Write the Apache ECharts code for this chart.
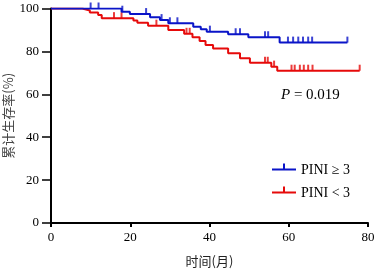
<!DOCTYPE html>
<html>
<head>
<meta charset="utf-8">
<script src="https://cdn.jsdelivr.net/npm/echarts@6/dist/echarts.min.js"></script>
<style>
  html, body { margin: 0; padding: 0; background: #fff; }
  #km { width: 378px; height: 271px; }
</style>
</head>
<body>
<div id="km"></div>
<script>
// 生存曲线数据
var xTicks = [0, 20, 40, 60, 80];
var yTicks = [0, 20, 40, 60, 80, 100];

var highTimes = [0, 17.8, 19.9, 25.0, 27.5, 29.6, 35.9, 37.8, 39.3, 44.7, 49.8, 57.7, 74.8];
var highSurv = [100, 98.5, 97.4, 95.9, 94.6, 93.1, 91.5, 90.3, 89.2, 88.0, 86.6, 84.1, 84.1];
var highCensor = [10.0, 12.0, 18.0, 24.0, 27.9, 30.0, 31.9, 40.1, 46.6, 47.7, 54.0, 54.8, 59.8, 61.1, 62.4, 63.6, 64.9, 65.9, 74.8];

var lowTimes = [0, 7.9, 9.8, 11.9, 12.8, 20.8, 21.8, 24.5, 29.6, 33.6, 35.7, 37.5, 39.0, 40.9, 44.7, 47.7, 50.2, 55.6, 57.1, 77.9];
var lowSurv = [100, 99.1, 98.1, 97.0, 95.5, 94.4, 93.3, 92.0, 90.0, 88.2, 86.6, 84.8, 83.0, 81.4, 79.1, 76.8, 74.7, 72.9, 71.0, 71.0];
var lowCensor = [15.9, 17.8, 26.6, 34.2, 35.0, 54.0, 54.7, 56.3, 60.7, 61.5, 62.8, 63.8, 64.9, 66.0, 77.9];

var groupNames = ['PINI \u2265 3', 'PINI < 3'];
var pText = '0.019';

var blue = '#0a14c8';
var red = '#e60a0a';
var serif = '"Liberation Serif", "Times New Roman", serif';
var cjk = '"Noto Sans CJK SC", sans-serif';

function pairs(ts, ss) {
  return ts.map(function (t, i) { return [t, ss[i]]; });
}
// 删失点取所在时刻的生存率
function censorPts(cs, ts, ss) {
  return cs.map(function (c) {
    var v = ss[0];
    for (var i = 0; i < ts.length; i++) { if (ts[i] <= c) v = ss[i]; }
    return [c, v];
  });
}

// 图例图标：横线 + 中间向上的删失标记（底部加一个极小点让横线居中）
var legendIcon = 'path://M0,7h24v2h-24z M11,2h2v5h-2z M0,15h0.01v0.01h-0.01z';

var chart = echarts.init(document.getElementById('km'));
chart.setOption({
  animation: false,
  grid: { left: 51, right: 10, top: 8.5, bottom: 48, outerBoundsMode: 'none' },
  legend: {
    orient: 'vertical',
    left: 267, top: 158,
    itemWidth: 24, itemHeight: 14, itemGap: 9,
    data: [
      { name: groupNames[0], icon: legendIcon },
      { name: groupNames[1], icon: legendIcon }
    ],
    textStyle: { fontFamily: serif, fontSize: 14, color: '#000' }
  },
  xAxis: {
    type: 'value', min: 0, max: 80, interval: 20,
    name: '时间(月)', nameLocation: 'middle', nameGap: 32, nameMoveOverlap: false,
    nameTextStyle: { fontFamily: cjk, fontSize: 13, color: '#222' },
    axisLine: { onZero: false, lineStyle: { color: '#000', width: 2 } },
    axisTick: { length: 4, lineStyle: { color: '#000', width: 2 } },
    axisLabel: { fontFamily: serif, fontSize: 13, color: '#000', margin: 8 },
    splitLine: { show: false }
  },
  yAxis: {
    type: 'value', min: 0, max: 100, interval: 20,
    name: '累计生存率(%)', nameLocation: 'middle', nameGap: 36, nameMoveOverlap: false,
    nameTextStyle: { fontFamily: cjk, fontSize: 13, color: '#444' },
    axisLine: { show: true, lineStyle: { color: '#000', width: 2 } },
    axisTick: { show: true, length: 9, lineStyle: { color: '#000', width: 1.5 } },
    axisLabel: { fontFamily: serif, fontSize: 13, color: '#000', margin: 12 },
    splitLine: { show: false }
  },
  graphic: [{
    type: 'text', left: 281, top: 88,
    style: {
      text: '{i|P} = ' + pText,
      rich: { i: { fontStyle: 'italic', fontFamily: serif, fontSize: 15 } },
      font: '15px ' + serif, fill: '#000'
    }
  }],
  series: [
    {
      name: groupNames[1], type: 'line', step: 'end', symbol: 'none',
      data: pairs(lowTimes, lowSurv), z: 3,
      itemStyle: { color: red }, lineStyle: { color: red, width: 2 }
    },
    {
      name: groupNames[1] + ' censor', type: 'scatter', data: censorPts(lowCensor, lowTimes, lowSurv),
      symbol: 'rect', symbolSize: [2, 6], symbolOffset: [0, -3], z: 3,
      itemStyle: { color: red }
    },
    {
      name: groupNames[0], type: 'line', step: 'end', symbol: 'none',
      data: pairs(highTimes, highSurv), z: 4,
      itemStyle: { color: blue }, lineStyle: { color: blue, width: 2 }
    },
    {
      name: groupNames[0] + ' censor', type: 'scatter', data: censorPts(highCensor, highTimes, highSurv),
      symbol: 'rect', symbolSize: [2, 6], symbolOffset: [0, -3], z: 4,
      itemStyle: { color: blue }
    }
  ]
});
</script>
</body>
</html>
